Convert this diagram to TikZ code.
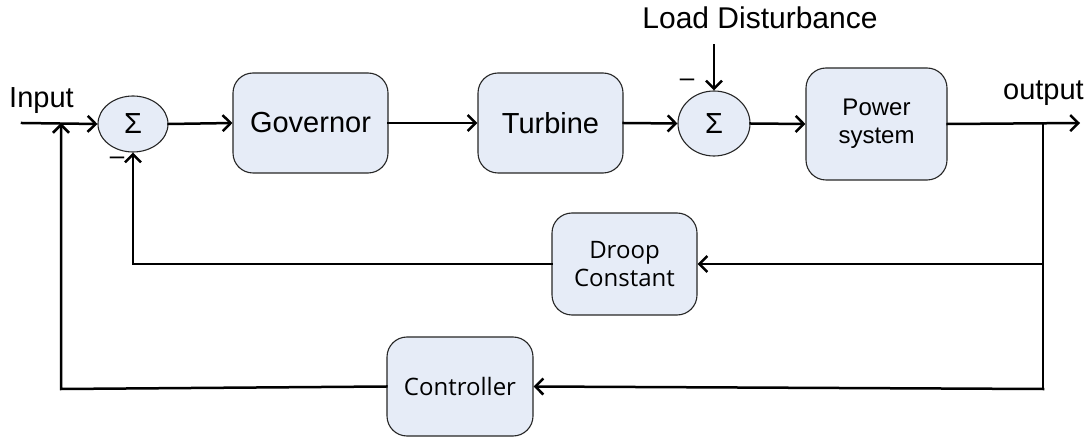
\documentclass[tikz,border=0pt]{standalone}
\usepackage{fontspec}
\setmainfont{Liberation Sans}
\newfontfamily\smallfont{Open Sans}
\usetikzlibrary{arrows.meta,shapes.geometric}
\definecolor{boxfill}{RGB}{230,236,247}
\tikzset{
  blockbox/.style={draw=black!85, line width=1.1pt, fill=boxfill, rounded corners=20pt, inner sep=0pt, align=center},
  sumnode/.style={draw=black!85, line width=1.1pt, fill=boxfill, ellipse, inner sep=0pt, font=\fontsize{29}{29}\selectfont},
  wire/.style={line width=2.5pt, line cap=rect},
  arrowwire/.style={wire, -{Straight Barb[length=8pt,width=16pt]}},
  bigtext/.style={font=\fontsize{29}{33}\selectfont},
  midtext/.style={font=\fontsize{24}{28}\selectfont},
  smalltext/.style={font=\smallfont\fontsize{24}{28}\selectfont},
  minus/.style={font=\fontsize{26}{26}\selectfont, inner sep=0pt},
}
\begin{document}
\begin{tikzpicture}[x=1pt,y=-1pt]
\useasboundingbox (0,0) rectangle (1090,438);

% forward path blocks
\node[sumnode, minimum width=70pt, minimum height=56pt] (s1) at (133,124) {Σ};
\node[blockbox, bigtext, minimum width=155pt, minimum height=100pt] (gov) at (310.5,123) {Governor};
\node[blockbox, bigtext, minimum width=145pt, minimum height=100pt] (tur) at (550.5,123) {Turbine};
\node[sumnode, minimum width=72pt, minimum height=65pt] (s2) at (714,123.5) {Σ};
\node[blockbox, midtext, minimum width=141pt, minimum height=112pt] (pow) at (876.5,124) {Power\\system};

% feedback blocks
\node[blockbox, smalltext, minimum width=145pt, minimum height=102pt] (droop) at (624.5,264) {Droop\\Constant};
\node[blockbox, smalltext, minimum width=146pt, minimum height=99pt] (ctrl) at (460,386.5) {Controller};

% labels
\node[bigtext, anchor=base west, inner sep=0pt] (inlbl) at (9,108) {Input};
\node[bigtext, anchor=base east, inner sep=0pt] (outlbl) at (1084,100) {output};
\node[font=\fontsize{30}{33}\selectfont, anchor=base, inner sep=0pt] (loadlbl) at (760,29) {Load Disturbance};
\node[minus] (m1) at (117,161) {–};
\node[minus] (m2) at (687,83) {–};

% helper points
\coordinate (instart) at (22,123);
\coordinate (fbjoin) at (61,123);
\coordinate (fbcorner) at (61,389);
\coordinate (dcorner) at (133,264);
\coordinate (branch) at (1043,123);
\coordinate (bdroop) at (1043,264);
\coordinate (bctrl) at (1043,389);
\coordinate (outend) at (1080,123);
\coordinate (loadtop) at (714,45);

% forward connections
\draw[arrowwire] (instart) -- (s1.west);
\draw[arrowwire] (s1.east) -- (gov.west);
\draw[arrowwire] (gov.east) -- (tur.west);
\draw[arrowwire] (tur.east) -- (s2.west);
\draw[arrowwire] (s2.east) -- (pow.west);
\draw[arrowwire] (pow.east) -- (outend);
\draw[arrowwire] (loadtop) -- (s2.north);

% feedback connections
\draw[wire] (branch) -- (bctrl);
\draw[arrowwire] (bdroop) -- (droop.east);
\draw[arrowwire] (bctrl) -- (ctrl.east);
\draw[arrowwire] (droop.west) -- (dcorner) -- (s1.south);
\draw[arrowwire] (ctrl.west) -- (fbcorner) -- (fbjoin);
\end{tikzpicture}
\end{document}
